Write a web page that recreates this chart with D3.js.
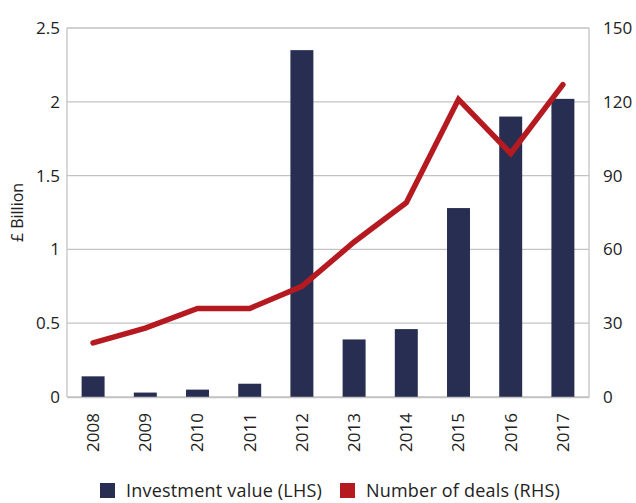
<!DOCTYPE html>
<html lang="en">

<head>
    <meta charset="UTF-8">
    <title>Investment value and number of deals</title>
    <style>
        body {
            margin: 0;
            background: #fff;
        }

        svg text {
            font-family: "Open Sans", sans-serif;
            fill: #222;
        }
    </style>
</head>

<body>
    <div class="box"></div>
    <script src="https://d3js.org/d3.v7.min.js"></script>
    <script>
        // 数据
        const years = ['2008', '2009', '2010', '2011', '2012', '2013', '2014', '2015', '2016', '2017'];
        const investment = [0.14, 0.03, 0.05, 0.09, 2.35, 0.39, 0.46, 1.28, 1.90, 2.02];
        const deals = [22, 28, 36, 36, 45, 63, 79, 121, 99, 127];
        const leftTicks = [0, 0.5, 1, 1.5, 2, 2.5];
        const rightTicks = [0, 30, 60, 90, 120, 150];
        const legendItems = ['Investment value (LHS)', 'Number of deals (RHS)'];

        const barColor = '#282e51';
        const lineColor = '#b51a20';
        const gridColor = '#c3c3c3';

        const svg = d3.select('.box').append('svg')
            .attr('width', 636)
            .attr('height', 503)
            .style('display', 'block');

        const width = +svg.attr('width');
        const height = +svg.attr('height');
        const margin = { top: 28, right: 47, bottom: 106, left: 67 };
        const innerWidth = width - margin.left - margin.right;
        const innerHeight = height - margin.top - margin.bottom;

        const box = svg.append('g')
            .attr('transform', `translate(${margin.left}, ${margin.top})`);

        // 比例尺
        const x = d3.scaleBand().domain(years).range([0, innerWidth]).paddingInner(0.56).paddingOuter(0.28);
        const xc = d => x(d) + x.bandwidth() / 2;
        const yLeft = d3.scaleLinear().domain([0, 2.5]).range([innerHeight, 0]);
        const yRight = d3.scaleLinear().domain([0, 150]).range([innerHeight, 0]);

        // 网格线
        box.append('g')
            .selectAll('line').data(leftTicks).join('line')
            .attr('x1', 0).attr('x2', innerWidth)
            .attr('y1', d => yLeft(d)).attr('y2', d => yLeft(d))
            .attr('stroke', gridColor).attr('stroke-width', 1.3);

        // 左右边框
        box.append('line').attr('x1', 0).attr('x2', 0).attr('y1', 0).attr('y2', innerHeight)
            .attr('stroke', gridColor).attr('stroke-width', 1.3);
        box.append('line').attr('x1', innerWidth).attr('x2', innerWidth).attr('y1', 0).attr('y2', innerHeight)
            .attr('stroke', gridColor).attr('stroke-width', 1.3);

        // 柱
        box.selectAll('.bar').data(years).join('rect')
            .attr('class', 'bar')
            .attr('x', d => x(d))
            .attr('y', (d, i) => yLeft(investment[i]))
            .attr('width', x.bandwidth())
            .attr('height', (d, i) => innerHeight - yLeft(investment[i]))
            .attr('fill', barColor);

        // 折线
        const line = d3.line()
            .x((d, i) => xc(years[i]))
            .y(d => yRight(d));
        box.append('path')
            .datum(deals)
            .attr('d', line)
            .attr('fill', 'none')
            .attr('stroke', lineColor)
            .attr('stroke-width', 5.5)
            .attr('stroke-linecap', 'round')
            .attr('stroke-linejoin', 'miter');

        // 左轴
        const leftAxis = box.append('g')
            .call(d3.axisLeft(yLeft).tickValues(leftTicks).tickSize(0).tickPadding(7).tickFormat(d3.format('')));
        leftAxis.select('.domain').remove();
        leftAxis.selectAll('text').attr('font-size', 17).attr('fill', '#222');

        // 右轴
        const rightAxis = box.append('g')
            .attr('transform', `translate(${innerWidth}, 0)`)
            .call(d3.axisRight(yRight).tickValues(rightTicks).tickSize(0).tickPadding(14));
        rightAxis.select('.domain').remove();
        rightAxis.selectAll('text').attr('font-size', 17).attr('fill', '#222');

        // X轴
        const xAxis = box.append('g')
            .attr('transform', `translate(0, ${innerHeight})`)
            .call(d3.axisBottom(x).tickSize(0).tickPadding(0));
        xAxis.select('.domain').attr('stroke', gridColor).attr('stroke-width', 1.3);
        xAxis.selectAll('text')
            .attr('font-size', 17)
            .attr('fill', '#222')
            .attr('transform', 'rotate(-90)')
            .attr('text-anchor', 'end')
            .attr('x', -16)
            .attr('y', 0)
            .attr('dy', '0.35em');

        // Y轴标题
        svg.append('text')
            .text('£ Billion')
            .attr('transform', `translate(23, ${margin.top + innerHeight / 2}) rotate(-90)`)
            .attr('text-anchor', 'middle')
            .attr('font-size', 16);

        // 图例
        const legend = svg.append('g').attr('transform', 'translate(100, 483)');
        const legendX = [0, 240];
        const legendColors = [barColor, lineColor];
        const item = legend.selectAll('.legend-item').data(legendItems).join('g')
            .attr('class', 'legend-item')
            .attr('transform', (d, i) => `translate(${legendX[i]}, 0)`);
        item.append('rect')
            .attr('width', 15).attr('height', 15)
            .attr('fill', (d, i) => legendColors[i]);
        item.append('text')
            .text(d => d)
            .attr('x', 26)
            .attr('y', 14)
            .attr('font-size', 18)
            .attr('letter-spacing', 0.2);
    </script>
</body>

</html>
